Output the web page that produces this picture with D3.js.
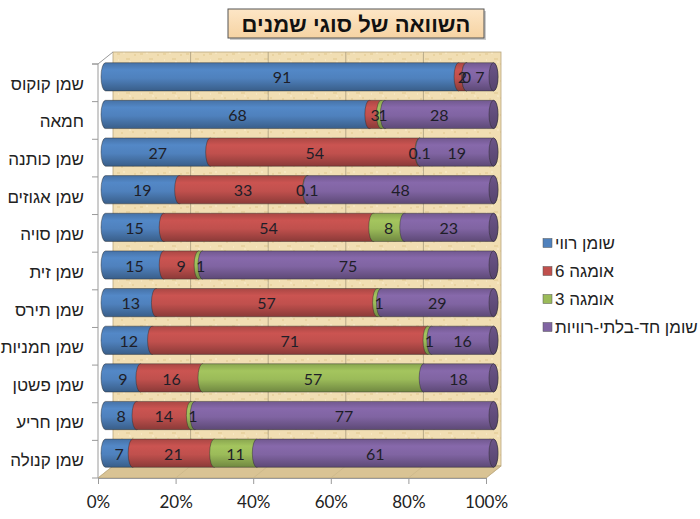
<!DOCTYPE html>
<html><head><meta charset="utf-8">
<script src="https://cdn.jsdelivr.net/npm/d3@7"></script>
<style>
body{margin:0;background:#fff;}
svg{display:block;}
</style></head>
<body><svg id="c" width="700" height="519"></svg>
<script>
const title = "השוואה של סוגי שמנים";
const categories = ["שמן קוקוס","חמאה","שמן כותנה","שמן אגוזים","שמן סויה","שמן זית","שמן תירס","שמן חמניות","שמן פשטן","שמן חריע","שמן קנולה"];
const seriesNames = ["שומן רווי","אומגה 6","אומגה 3","שומן חד-בלתי-רוויות"];
const saturated = [91,68,27,19,15,15,13,12,9,8,7];
const omega6    = [2,3,54,33,54,9,57,71,16,14,21];
const omega3    = [0,1,0.1,0.1,8,1,1,1,57,1,11];
const mono      = [7,28,19,48,23,75,29,16,18,77,61];
const xTicks = [0,0.2,0.4,0.6,0.8,1];
const colors = ["#4f81bd","#c0504d","#9bbb59","#8064a2"];

const svg = d3.select("#c");
const F = {x0:98, x1:486, yTop:64, yBot:478};
const DX = 15, DY = -12;

const x = d3.scaleLinear().domain([0,1]).range([F.x0,F.x1]);
const y = d3.scaleBand().domain(categories).range([F.yTop,F.yBot]).paddingInner(0.25).paddingOuter(0.125);

const rows = categories.map((c,i)=>({cat:c, s0:saturated[i], s1:omega6[i], s2:omega3[i], s3:mono[i]}));
const stack = d3.stack().keys(["s0","s1","s2","s3"]).offset(d3.stackOffsetExpand);
const stacked = stack(rows);

const defs = svg.append("defs");
const shade = (c,k)=>d3.color(c).darker(k).formatHex();
const light = (c,k)=>d3.color(c).brighter(k).formatHex();
colors.forEach((c,i)=>{
  const g = defs.append("linearGradient").attr("id","g"+i).attr("x1",0).attr("y1",0).attr("x2",0).attr("y2",1);
  g.append("stop").attr("offset","0%").attr("stop-color",shade(c,0.35));
  g.append("stop").attr("offset","25%").attr("stop-color",light(c,0.15));
  g.append("stop").attr("offset","55%").attr("stop-color",c);
  g.append("stop").attr("offset","100%").attr("stop-color",shade(c,0.9));
  const e = defs.append("linearGradient").attr("id","e"+i).attr("x1",0).attr("y1",0).attr("x2",0).attr("y2",1);
  e.append("stop").attr("offset","0%").attr("stop-color",shade(c,0.5));
  e.append("stop").attr("offset","100%").attr("stop-color",shade(c,1.1));
});
const tg = defs.append("linearGradient").attr("id","tg").attr("x1",0).attr("y1",0).attr("x2",0).attr("y2",1);
tg.append("stop").attr("offset","0%").attr("stop-color","#fde6c6");
tg.append("stop").attr("offset","100%").attr("stop-color","#f6d3a3");

const pat = defs.append("pattern").attr("id","tex").attr("width",23).attr("height",17).attr("patternUnits","userSpaceOnUse");
pat.append("rect").attr("width",23).attr("height",17).attr("fill","#f1deb3");
pat.append("path").attr("d","M2 3h3M11 8h4M17 13h2M6 14h2M19 4h2").attr("stroke","#e2c890").attr("stroke-width",1);
pat.append("path").attr("d","M8 2h2M14 11h2M3 9h1").attr("stroke","#fbefd0").attr("stroke-width",1);

const bx0 = F.x0+DX, bx1 = F.x1+DX, by0 = F.yTop+DY, by1 = F.yBot+DY;
svg.append("rect").attr("x",bx0).attr("y",by0).attr("width",bx1-bx0).attr("height",by1-by0)
  .attr("fill","url(#tex)").attr("stroke","#b8a67e").attr("stroke-width",0.8);
svg.append("g").selectAll("line").data(xTicks.slice(1,-1)).join("line")
  .attr("x1",d=>x(d)+DX).attr("x2",d=>x(d)+DX).attr("y1",by0).attr("y2",by1)
  .attr("stroke","#a89a7c").attr("stroke-width",0.8);
svg.append("path")
  .attr("d",`M${F.x0},${F.yBot}L${F.x1},${F.yBot}L${bx1},${by1}L${bx0},${by1}Z`)
  .attr("fill","#d9c394").attr("stroke","#b5a27a").attr("stroke-width",0.8);
svg.append("g").selectAll("line").data(xTicks).join("line")
  .attr("x1",d=>x(d)).attr("x2",d=>x(d)+DX).attr("y1",F.yBot).attr("y2",by1)
  .attr("stroke","#c8b386").attr("stroke-width",0.6);
svg.append("path").attr("d",`M${F.x0-6},${F.yTop}L${F.x0},${F.yTop}L${bx0},${by0}`)
  .attr("fill","none").attr("stroke","#9a9a9a").attr("stroke-width",1);
svg.append("line").attr("x1",F.x0).attr("x2",F.x0).attr("y1",F.yTop).attr("y2",F.yBot)
  .attr("stroke","#9a9a9a").attr("stroke-width",1);
const step = y.step();
const bounds = categories.map(c=>y(c)-step*y.paddingInner()/2).concat([F.yBot]);
svg.append("g").selectAll("line").data(bounds).join("line")
  .attr("x1",F.x0-6).attr("x2",F.x0).attr("y1",d=>d).attr("y2",d=>d)
  .attr("stroke","#9a9a9a").attr("stroke-width",1);

const ax = svg.append("g").attr("transform",`translate(0,${F.yBot})`)
  .call(d3.axisBottom(x).tickValues(xTicks).tickFormat(d3.format(".0%")).tickSize(6).tickSizeOuter(0));
ax.select(".domain").attr("stroke","#9a9a9a");
ax.selectAll(".tick line").attr("stroke","#9a9a9a");
ax.selectAll(".tick text").attr("y",24).attr("dy","0.35em")
  .attr("font-family","Lato, 'Open Sans', sans-serif").attr("font-size",17).attr("fill","#222");

svg.append("g").selectAll("text").data(categories).join("text")
  .attr("x",84).attr("y",d=>y(d)+y.bandwidth()/2+1).attr("dy","0.35em")
  .attr("direction","rtl").attr("text-anchor","start")
  .attr("font-family","'Liberation Sans', Arial, sans-serif").attr("font-size",17).attr("fill","#222")
  .text(d=>d);

const BX = DX/2, BY = DY/2;
const h = y.bandwidth();
const rx = 4.5;
const barsG = svg.append("g");
categories.forEach((c,ci)=>{
  const yc = y(c)+BY, ym = yc+h/2, ry = h/2;
  stacked.forEach((s,si)=>{
    const d = s[ci];
    const xa = x(d[0])+BX, xb = x(d[1])+BX;
    const p = `M${xa},${yc} L${xb},${yc} A${rx},${ry} 0 0 1 ${xb},${yc+h} L${xa},${yc+h} A${rx},${ry} 0 0 1 ${xa},${yc} Z`;
    barsG.append("path").attr("d",p).attr("fill",`url(#g${si})`)
      .attr("stroke","#2a2a2a").attr("stroke-opacity",0.55).attr("stroke-width",0.8);
  });
  const last = stacked[stacked.length-1][ci];
  const xe = x(last[1])+BX;
  barsG.append("ellipse").attr("cx",xe).attr("cy",ym).attr("rx",rx).attr("ry",ry)
    .attr("fill",`url(#e${stacked.length-1})`).attr("stroke","#2a2a2a").attr("stroke-opacity",0.6).attr("stroke-width",0.8);
});
const vals = [saturated,omega6,omega3,mono];
const lblG = svg.append("g");
categories.forEach((c,ci)=>{
  const ym = y(c)+BY+h/2;
  stacked.forEach((s,si)=>{
    const d = s[ci];
    lblG.append("text").attr("x",(x(d[0])+x(d[1]))/2+BX).attr("y",ym+1).attr("dy","0.35em")
      .attr("text-anchor","middle").attr("font-family","Lato, 'Open Sans', sans-serif").attr("font-size",16)
      .attr("fill","#1e1e28").text(vals[si][ci]);
  });
});

const tG = svg.append("g");
tG.append("rect").attr("x",230).attr("y",11).attr("width",256).attr("height",29).attr("fill","#9a9a9a").attr("opacity",0.5);
tG.append("rect").attr("x",228).attr("y",9).attr("width",256).attr("height",29).attr("fill","url(#tg)").attr("stroke","#555").attr("stroke-width",1);
tG.append("text").attr("x",356).attr("y",24).attr("dy","0.36em").attr("text-anchor","middle").attr("direction","rtl")
  .attr("font-family","'Liberation Sans', Arial, sans-serif").attr("font-weight","bold").attr("font-size",22).attr("fill","#111").text(title);

const lg = svg.append("g");
seriesNames.forEach((n,i)=>{
  const yy = 243 + i*28;
  lg.append("rect").attr("x",543).attr("y",yy-4.5).attr("width",9).attr("height",9).attr("fill",colors[i]).attr("stroke","#555").attr("stroke-width",0.5);
  lg.append("text").attr("x",555).attr("y",yy).attr("dy","0.35em").attr("direction","rtl").attr("text-anchor","end")
    .attr("font-family","'Liberation Sans', Arial, sans-serif").attr("font-size",17).attr("fill","#222").text(n);
});
</script></body></html>
